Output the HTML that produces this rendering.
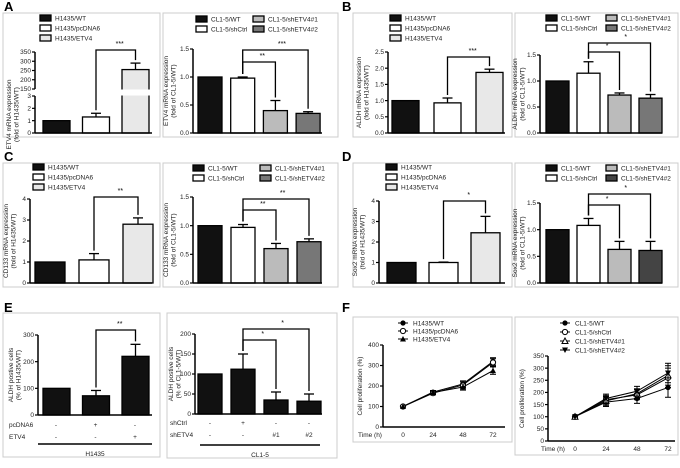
<!DOCTYPE html>
<html><head><meta charset="utf-8">
<style>
body{margin:0;background:#fff;}
svg{display:block;font-family:"Liberation Sans",sans-serif;}
</style></head>
<body>
<svg id="fig" width="680" height="468" viewBox="0 0 680 468" xmlns="http://www.w3.org/2000/svg"></svg>
<script>
// ---- data ----
const A1_vals=[1,1.3,255], A1_errs=[0,0.3,35];
const A2_vals=[1,0.98,0.4,0.35], A2_errs=[0,0.02,0.18,0.03];
const B1_vals=[1,0.93,1.87], B1_errs=[0,0.15,0.1];
const B2_vals=[1,1.15,0.73,0.67], B2_errs=[0,0.22,0.04,0.07];
const C1_vals=[1,1.1,2.8], C1_errs=[0,0.3,0.3];
const C2_vals=[1,0.97,0.6,0.72], C2_errs=[0,0.05,0.09,0.05];
const D1_vals=[1,1,2.45], D1_errs=[0,0.02,0.8];
const D2_vals=[1,1.08,0.63,0.61], D2_errs=[0,0.13,0.15,0.17];
const E1_vals=[100,72,220], E1_errs=[0,20,45];
const E2_vals=[100,112,35,32], E2_errs=[0,38,20,18];
const F_times=[0,24,48,72];
const F1_wt=[100,170,210,320], F1_pc=[100,165,205,315], F1_etv=[100,168,195,275];
const F1_err=[5,8,15,18];
const F2_wt=[100,160,175,220], F2_ctrl=[100,170,190,260], F2_sh1=[100,165,195,270], F2_sh2=[100,175,205,280];
const F2_err=[5,18,20,40];
const ticks_3=[0,1,2,3], ticks_A1hi=[150,200,250,300,350];
const ticks_15=[0,0.5,1.0,1.5], ticks_25=[0,0.5,1.0,1.5,2.0,2.5], ticks_4=[0,1,2,3,4];
const ticks_300=[0,100,200,300], ticks_200=[0,50,100,150,200];
const ticks_400=[0,100,200,300,400], ticks_350=[0,50,100,150,200,250,300,350];
const legH=["H1435/WT","H1435/pcDNA6","H1435/ETV4"];
const legC=["CL1-5/WT","CL1-5/shCtrl","CL1-5/shETV4#1","CL1-5/shETV4#2"];

const NS="http://www.w3.org/2000/svg";
const svg=document.getElementById('fig');
function mk(tag,attrs,parent,text){
  const e=document.createElementNS(NS,tag);
  for(const k in attrs)e.setAttribute(k,attrs[k]);
  if(text!==undefined)e.textContent=text;
  (parent||svg).appendChild(e);return e;
}
function fmt(v,dec){return dec?v.toFixed(1):String(v);}

function box(x,y,w,h,name){
  const r=mk('rect',{x:x,y:y,width:w,height:h,fill:'#fff',stroke:'#ccc','stroke-width':1});
  
  
}
function letter(t,x,y){
  const e=mk('text',{x:x,y:y,'font-size':13,'font-weight':'bold',fill:'#000'},svg,t);
  
  
}
function yAxis(g,ax,yMap,ticks,dec,y0,y1){
  mk('line',{x1:ax,x2:ax,y1:y0,y2:y1,stroke:'#000','stroke-width':1.5},g);
  ticks.forEach(t=>{
    const y=yMap(t);
    mk('line',{x1:ax-3,x2:ax,y1:y,y2:y,stroke:'#000','stroke-width':1.2},g);
    const tx=mk('text',{x:ax-4,y:y+2.2,'font-size':6.5,'text-anchor':'end',fill:'#222'},g,fmt(t,dec));
    
    
  });
}
function yTitle(g,x,y,l1,l2){
  const t=mk('text',{transform:`translate(${x-3},${y}) rotate(-90)`,'font-size':6.5,'text-anchor':'middle',fill:'#222'},g);
  mk('tspan',{x:0,dy:0},t,l1);
  mk('tspan',{x:0,dy:7.5},t,l2);
  
  
}
function legend(g,items,fills,x,y,cols,colW,rowH,markers){
  const rows=Math.ceil(items.length/cols);
  items.forEach((s,i)=>{
    const c=Math.floor(i/rows),r=i%rows;
    const lx=x+c*colW, ly=y+r*rowH;
    const lg=mk('g',{},g);
    
    
    if(markers){mk('line',{x1:lx,x2:lx+10,y1:ly,y2:ly,stroke:'#000'},lg);markers[i](lg,lx+5,ly);}
    else mk('rect',{x:lx,y:ly-3,width:11,height:6,fill:fills[i],stroke:'#000','stroke-width':1.3},lg);
    mk('text',{x:lx+15,y:ly+2.3,'font-size':6.5,fill:'#222'},lg,s);
  });
}
function barPanel(p){
  const g=mk('g',{});
  
  
  const yMap=p.yMap||(v=>p.y0-(v/p.max)*(p.y0-p.yTop));
  const bx=i=>p.start+i*p.step;
  p.vals.forEach((v,i)=>{
    const top=yMap(v);
    const b=mk('rect',{x:bx(i),y:top,width:p.w,height:p.y0-top,fill:p.fills[i],stroke:'#000','stroke-width':1.3},g);
    
    
    if(p.errs[i]>0){
      const et=yMap(v+p.errs[i]),cx=bx(i)+p.w/2;
      mk('line',{x1:cx,x2:cx,y1:top,y2:et,stroke:'#000','stroke-width':1.3},g);
      mk('line',{x1:cx-5,x2:cx+5,y1:et,y2:et,stroke:'#000','stroke-width':1.3},g);
    }
  });
  if(p.after)p.after(g,bx,yMap);
  yAxis(g,p.ax,yMap,p.ticks,p.dec,p.y0,p.axTop);
  if(p.ticks2)yAxis(g,p.ax,yMap,p.ticks2,false,p.ax2a,p.ax2b);
  mk('line',{x1:p.ax,x2:p.axEnd,y1:p.y0,y2:p.y0,stroke:'#000','stroke-width':1.5},g);
  (p.brackets||[]).forEach(br=>{
    const [a,b,yy,lab]=br;
    const ca=bx(a)+p.w/2, cb=bx(b)+p.w/2;
    const ta=yMap(p.vals[a]+p.errs[a])-3, tb=yMap(p.vals[b]+p.errs[b])-3;
    const pl=mk('polyline',{points:`${ca},${ta} ${ca},${yy} ${cb},${yy} ${cb},${tb}`,fill:'none',stroke:'#000','stroke-width':1.3},g);
    
    
    mk('text',{x:cb-(cb-ca)*0.4,y:yy-4,'font-size':7,'text-anchor':'middle',fill:'#000'},g,lab);
  });
  yTitle(g,p.titleX,(p.y0+p.axTop)/2,p.t1,p.t2);
  legend(g,p.leg,p.fills,p.legX,p.legY,p.legCols,p.legColW,10);
  return g;
}
const fH=['#111','#fff','#e8e8e8'], fC=['#111','#fff','#bbb','#777'], fD=['#111','#fff','#bbb','#444'];

letter('A',4,11);letter('B',342,11);letter('C',4,161);letter('D',342,161);letter('E',4,312);letter('F',342,312);
box(3,13,157,124,'panel-a-left-frame');box(163,13,175,124,'panel-a-right-frame');
box(353,13,159,124,'panel-b-left-frame');box(515,13,163,124,'panel-b-right-frame');
box(3,163,157,124,'panel-c-left-frame');box(163,163,175,124,'panel-c-right-frame');
box(353,163,159,124,'panel-d-left-frame');box(515,163,163,124,'panel-d-right-frame');
box(3,313,157,144,'panel-e-left-frame');box(167,313,170,145,'panel-e-right-frame');
box(353,317,159,125,'panel-f-left-frame');box(515,317,163,138,'panel-f-right-frame');

const A1map=v=>v<=3?133-(v/3)*37:89-((v-150)/200)*37;
barPanel({name:'chart-a-h1435-etv4',vals:A1_vals,errs:A1_errs,fills:fH,yMap:A1map,y0:133,ax:35,axTop:96,axEnd:152,
  ticks:ticks_3,ticks2:ticks_A1hi,ax2a:89,ax2b:52,start:43,step:39.5,w:27,brackets:[[1,2,50,'***']],
  titleX:14,t1:'ETV4 mRNA expression',t2:'(fold of H1435/WT)',leg:legH,legX:40,legY:18,legCols:1,legColW:0,
  after:(g,bx)=>{mk('rect',{x:bx(2)-1,y:89.5,width:30,height:6,fill:'#fff'},g);}});
barPanel({name:'chart-a-cl15-etv4',vals:A2_vals,errs:A2_errs,fills:fC,y0:133,yTop:49,max:1.5,ax:193,axTop:49,axEnd:322,dec:true,
  ticks:ticks_15,start:198,step:32.7,w:24,brackets:[[1,2,62,'**'],[1,3,50,'***']],
  titleX:171,t1:'ETV4 mRNA expression',t2:'(fold of CL1-5/WT)',leg:legC,legX:196,legY:19,legCols:2,legColW:57});
barPanel({name:'chart-b-h1435-aldh',vals:B1_vals,errs:B1_errs,fills:fH,y0:133,yTop:52,max:2.5,ax:388,axTop:52,axEnd:505,dec:true,
  ticks:ticks_25,start:392,step:42,w:27,brackets:[[1,2,57,'***']],
  titleX:364,t1:'ALDH mRNA expression',t2:'(fold of H1435/WT)',leg:legH,legX:390,legY:18,legCols:1,legColW:0});
barPanel({name:'chart-b-cl15-aldh',vals:B2_vals,errs:B2_errs,fills:fC,y0:133,yTop:55,max:1.5,ax:540,axTop:55,axEnd:662,dec:true,
  ticks:ticks_15,start:546,step:31,w:23,brackets:[[1,2,52,'*'],[1,3,43,'*']],
  titleX:520,t1:'ALDH mRNA expression',t2:'(fold of CL1-5/WT)',leg:legC,legX:546,legY:18,legCols:2,legColW:60});
barPanel({name:'chart-c-h1435-cd133',vals:C1_vals,errs:C1_errs,fills:fH,y0:283,yTop:199,max:4,ax:30,axTop:199,axEnd:152,
  ticks:ticks_4,start:35,step:44,w:30,brackets:[[1,2,197,'**']],
  titleX:11,t1:'CD133 mRNA expression',t2:'(fold of H1435/WT)',leg:legH,legX:33,legY:167,legCols:1,legColW:0});
barPanel({name:'chart-c-cl15-cd133',vals:C2_vals,errs:C2_errs,fills:fC,y0:283,yTop:197,max:1.5,ax:193,axTop:197,axEnd:322,dec:true,
  ticks:ticks_15,start:198,step:33,w:24,brackets:[[1,2,210,'**'],[1,3,199,'**']],
  titleX:171,t1:'CD133 mRNA expression',t2:'(fold of CL1-5/WT)',leg:legC,legX:193,legY:168,legCols:2,legColW:67});
barPanel({name:'chart-d-h1435-sox2',vals:D1_vals,errs:D1_errs,fills:fH,y0:283,yTop:201,max:4,ax:379,axTop:201,axEnd:505,
  ticks:ticks_4,start:387,step:42,w:29,brackets:[[1,2,201,'*']],
  titleX:360,t1:'Sox2 mRNA expression',t2:'(fold of H1435/WT)',leg:legH,legX:386,legY:167,legCols:1,legColW:0});
barPanel({name:'chart-d-cl15-sox2',vals:D2_vals,errs:D2_errs,fills:fD,y0:283,yTop:203,max:1.5,ax:540,axTop:203,axEnd:662,dec:true,
  ticks:ticks_15,start:546,step:31,w:23,brackets:[[1,2,205,'*'],[1,3,194,'*']],
  titleX:520,t1:'Sox2 mRNA expression',t2:'(fold of CL1-5/WT)',leg:legC,legX:546,legY:168,legCols:2,legColW:60});
const fE1=['#111','#111','#111'],fE2=['#111','#111','#111','#111'];
barPanel({name:'chart-e-h1435-aldh-positive',vals:E1_vals,errs:E1_errs,fills:fE1,y0:415,yTop:335,max:300,ax:38,axTop:335,axEnd:152,
  ticks:ticks_300,start:43,step:39.5,w:27,brackets:[[1,2,330,'**']],
  titleX:16,t1:'ALDH postive cells',t2:'(% of H1435/WT)',leg:[],legX:0,legY:0,legCols:1,legColW:0});
barPanel({name:'chart-e-cl15-aldh-positive',vals:E2_vals,errs:E2_errs,fills:fE2,y0:414,yTop:334,max:200,ax:195,axTop:334,axEnd:322,
  ticks:ticks_200,start:198,step:33,w:24,brackets:[[1,2,340,'*'],[1,3,329,'*']],
  titleX:176,t1:'ALDH postive cells',t2:'(% of CL1-5/WT)',leg:[],legX:0,legY:0,legCols:1,legColW:0});
function txt(x,y,s,anchor,name,size){const e=mk('text',{x:x,y:y,'font-size':size||6.5,'text-anchor':anchor||'middle',fill:'#222'},svg,s);
  return e;}
const eRows1=[['pcDNA6',['-','+','-']],['ETV4',['-','-','+']]];
eRows1.forEach((r,ri)=>{txt(9,427+ri*12,r[0],'start','condition-label');r[1].forEach((s,i)=>txt(56+i*39.5,427+ri*12,s,'middle','condition-sign'));});
mk('line',{x1:38,x2:152,y1:444,y2:444,stroke:'#000','stroke-width':1.6});txt(95,456,'H1435','middle','group-label');
const eRows2=[['shCtrl',['-','+','-','-']],['shETV4',['-','-','#1','#2']]];
eRows2.forEach((r,ri)=>{txt(170,425+ri*12,r[0],'start','condition-label');r[1].forEach((s,i)=>txt(210+i*33,425+ri*12,s,'middle','condition-sign'));});
mk('line',{x1:200,x2:320,y1:445,y2:445,stroke:'#000','stroke-width':1.6});txt(260,457,'CL1-5','middle','group-label');

const mFill={circ:(g,x,y)=>mk('circle',{cx:x,cy:y,r:2.6,fill:'#000'},g),
 circO:(g,x,y)=>mk('circle',{cx:x,cy:y,r:2.6,fill:'#fff',stroke:'#000'},g),
 tri:(g,x,y)=>mk('polygon',{points:`${x},${y-3} ${x-3},${y+2.5} ${x+3},${y+2.5}`,fill:'#000'},g),
 triO:(g,x,y)=>mk('polygon',{points:`${x},${y-3} ${x-3},${y+2.5} ${x+3},${y+2.5}`,fill:'#fff',stroke:'#000'},g),
 triD:(g,x,y)=>mk('polygon',{points:`${x},${y+3} ${x-3},${y-2.5} ${x+3},${y-2.5}`,fill:'#000'},g)};
function linePanel(p){
  const g=mk('g',{});
  
  
  const yMap=v=>p.y0-(v/p.max)*(p.y0-p.yTop);
  const xMap=t=>p.x0+(t/72)*(p.x72-p.x0);
  yAxis(g,p.ax,yMap,p.ticks,false,p.y0,p.yTop);
  mk('line',{x1:p.ax,x2:p.axEnd,y1:p.y0,y2:p.y0,stroke:'#000','stroke-width':1.5},g);
  F_times.forEach(t=>{const e=mk('text',{x:xMap(t),y:p.y0+10,'font-size':6.5,'text-anchor':'middle',fill:'#222'},g,String(t));
    });
  mk('text',{x:p.timeX,y:p.y0+10,'font-size':6.5,'text-anchor':'middle',fill:'#222'},g,'Time (h)');
  p.series.forEach((s,si)=>{
    const sg=mk('g',{},g);
    
    
    mk('polyline',{points:s.map((v,i)=>xMap(F_times[i])+','+yMap(v)).join(' '),fill:'none',stroke:'#000','stroke-width':1},sg);
    s.forEach((v,i)=>{const x=xMap(F_times[i]);
      if(p.err[i]>6){mk('line',{x1:x,x2:x,y1:yMap(v-p.err[i]),y2:yMap(v+p.err[i]),stroke:'#000'},sg);
        mk('line',{x1:x-3,x2:x+3,y1:yMap(v+p.err[i]),y2:yMap(v+p.err[i]),stroke:'#000'},sg);
        mk('line',{x1:x-3,x2:x+3,y1:yMap(v-p.err[i]),y2:yMap(v-p.err[i]),stroke:'#000'},sg);}
      p.markers[si](sg,x,yMap(v));});
  });
  yTitle(g,p.titleX,(p.y0+p.yTop)/2,'Cell proliferation (%)','');
  legend(g,p.leg,null,p.legX,p.legY,1,0,p.legRow,p.markers);
}
linePanel({name:'chart-f-h1435-proliferation',series:[F1_wt,F1_pc,F1_etv],err:F1_err,markers:[mFill.circ,mFill.circO,mFill.tri],
  y0:427,yTop:345,max:400,ax:383,axEnd:505,ticks:ticks_400,x0:403,x72:493,timeX:370,titleX:365,
  leg:legH,legX:398,legY:323,legRow:8});
linePanel({name:'chart-f-cl15-proliferation',series:[F2_wt,F2_ctrl,F2_sh1,F2_sh2],err:F2_err,markers:[mFill.circ,mFill.circO,mFill.triO,mFill.triD],
  y0:441,yTop:356,max:350,ax:548,axEnd:675,ticks:ticks_350,x0:575,x72:668,timeX:553,titleX:527,
  leg:legC,legX:560,legY:323,legRow:9});
</script>
</body></html>
